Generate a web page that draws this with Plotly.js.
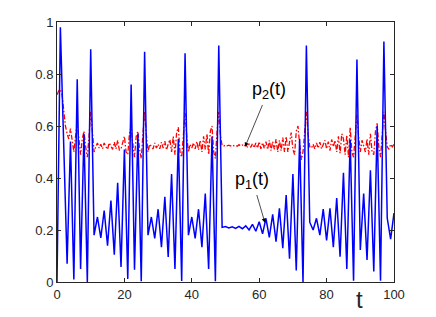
<!DOCTYPE html>
<html>
<head>
<meta charset="utf-8">
<script src="https://cdn.plot.ly/plotly-3.0.1.min.js"></script>
<style>html,body{margin:0;padding:0;background:#fff;}#chart{width:436px;height:317px;}</style>
</head>
<body>
<div id="chart"></div>
<script>
// p1(t): blue solid line (vertices)
const p1T = [0,1,3,4,5,6,7,8,9,10,11,12,13,14,15,16,17,18,19,20,
  21,22,23,24,25,26,27,28,29,30,31,32,33,34,35,36,37,38,39,40,
  41,42,43,44,45,46,47,48,49,50,51,52,53,54,55,56,57,58,59,60,
  61,62,63,64,65,66,67,68,69,70,71,72,73,74,75,76,77,78,79,80,
  81,82,83,84,85,86,87,88,89,90,91,92,93,94,95,96,97,98,99,100];
const p1 = [0,0.98,0.07,0.54,0.01,0.78,0.05,0.57,0.0,0.895,0.18,0.25,0.17,0.275,0.14,0.313,0.105,0.382,0.058,0.51,
  0.012,0.76,0.047,0.57,0.003,0.886,0.18,0.25,0.168,0.28,0.134,0.328,0.096,0.415,0.05,0.55,0.004,0.88,0.18,0.25,
  0.168,0.28,0.134,0.34,0.05,0.56,0.003,0.91,0.21,0.213,0.208,0.212,0.206,0.214,0.205,0.216,0.2,0.222,0.195,0.232,
  0.185,0.245,0.172,0.26,0.155,0.283,0.13,0.334,0.09,0.415,0.044,0.55,0.0,0.91,0.23,0.2,0.245,0.18,0.28,0.16,
  0.283,0.134,0.323,0.097,0.42,0.05,0.546,0.005,0.856,0.123,0.34,0.085,0.43,0.04,0.60,0.005,0.925,0.245,0.165,0.265];

// p2(t): red dash-dot line, sampled every 0.5 in t
const p2Step = 0.5;
const p2 = [
  0.72,0.735, 0.74,0.72, 0.66,0.60, 0.57,0.55, 0.59,0.54, 0.50,0.56, 0.61,0.55, 0.49,0.55, 0.58,0.52, 0.48,0.56,
  0.655,0.58, 0.50,0.52, 0.535,0.515, 0.53,0.512, 0.535,0.52, 0.51,0.535, 0.52,0.51, 0.538,0.512, 0.545,0.508, 0.512,0.542,
  0.56,0.50, 0.49,0.57, 0.60,0.53, 0.48,0.56, 0.58,0.51, 0.475,0.57, 0.655,0.57, 0.50,0.53, 0.52,0.512, 0.535,0.515,
  0.53,0.512, 0.538,0.515, 0.542,0.508, 0.53,0.548, 0.50,0.56, 0.49,0.575, 0.595,0.50, 0.48,0.58, 0.65,0.56, 0.50,0.53,
  0.515,0.535, 0.512,0.54, 0.508,0.545, 0.50,0.56, 0.51,0.57, 0.49,0.58, 0.60,0.50, 0.475,0.58, 0.655,0.56, 0.525,0.523,
  0.527,0.524, 0.526,0.523, 0.527,0.524, 0.526,0.522, 0.528,0.523, 0.527,0.521, 0.529,0.52, 0.53,0.518, 0.532,0.516, 0.535,0.515,
  0.54,0.512, 0.536,0.514, 0.54,0.51, 0.545,0.505, 0.54,0.51, 0.55,0.50, 0.545,0.505, 0.555,0.50, 0.56,0.50, 0.54,0.575,
  0.51,0.49, 0.58,0.60, 0.53,0.47, 0.50,0.60, 0.655,0.57, 0.52,0.515, 0.53,0.512, 0.535,0.515, 0.538,0.512, 0.53,0.545,
  0.512,0.54, 0.505,0.548, 0.52,0.545, 0.50,0.56, 0.495,0.57, 0.55,0.49, 0.565,0.48, 0.595,0.50, 0.48,0.58, 0.645,0.56,
  0.50,0.545, 0.52,0.50, 0.55,0.49, 0.57,0.50, 0.49,0.58, 0.61,0.52, 0.48,0.58, 0.655,0.58, 0.52,0.51, 0.53,0.52,
  0.53];
const p2T = p2.map((_, i) => i * p2Step);

const xTicks = [0,20,40,60,80,100];
const xTickText = ['0','20','40','60','80','100'];
const yTicks = [0,0.2,0.4,0.6,0.8,1];
const yTickText = ['0','0.2','0.4','0.6','0.8','1'];

const FONT = '"Liberation Sans", Arial, Helvetica, sans-serif';
const INK = '#262626';

const traces = [
  {x: p2T, y: p2, type: 'scatter', mode: 'lines', line: {color: '#ff0000', width: 1.3, dash: '5px,2px,1.5px,2px'}, hoverinfo: 'skip'},
  {x: p1T, y: p1, type: 'scatter', mode: 'lines', line: {color: '#0000ff', width: 1.5}, hoverinfo: 'skip'}
];

const axisCommon = {
  showline: true, mirror: 'ticks', linecolor: INK, linewidth: 1,
  ticks: 'inside', ticklen: 4, tickwidth: 1, tickcolor: INK,
  showgrid: false, zeroline: false,
  tickfont: {family: FONT, size: 13, color: INK}
};

const layout = {
  width: 436, height: 317,
  margin: {l: 57, r: 42, t: 22, b: 35},
  paper_bgcolor: '#fff', plot_bgcolor: '#fff',
  showlegend: false,
  xaxis: Object.assign({}, axisCommon, {range: [0, 100], tickvals: xTicks, ticktext: xTickText}),
  yaxis: Object.assign({}, axisCommon, {range: [0, 1], tickvals: yTicks, ticktext: yTickText}),
  annotations: [
    {x: 55.8, y: 0.52, xref: 'x', yref: 'y', ax: 62.8, ay: 0.738, axref: 'x', ayref: 'y',
     text: 'p<sub>2</sub>(t)', showarrow: true, arrowhead: 2, arrowsize: 1.2, arrowwidth: 0.7,
     arrowcolor: '#000', standoff: 0, startstandoff: 2,
     font: {family: FONT, size: 18, color: '#000'}},
    {x: 61.7, y: 0.228, xref: 'x', yref: 'y', ax: 58.0, ay: 0.392, axref: 'x', ayref: 'y',
     text: 'p<sub>1</sub>(t)', showarrow: true, arrowhead: 2, arrowsize: 1.2, arrowwidth: 0.7,
     arrowcolor: '#000', standoff: 0, startstandoff: 2,
     font: {family: FONT, size: 18, color: '#000'}},
    {x: 0.899, y: -0.069, xref: 'paper', yref: 'paper', text: 't', showarrow: false,
     xanchor: 'center', yanchor: 'middle', font: {family: FONT, size: 24, color: INK}}
  ]
};

Plotly.newPlot('chart', traces, layout, {staticPlot: true, displayModeBar: false});
</script>
</body>
</html>
